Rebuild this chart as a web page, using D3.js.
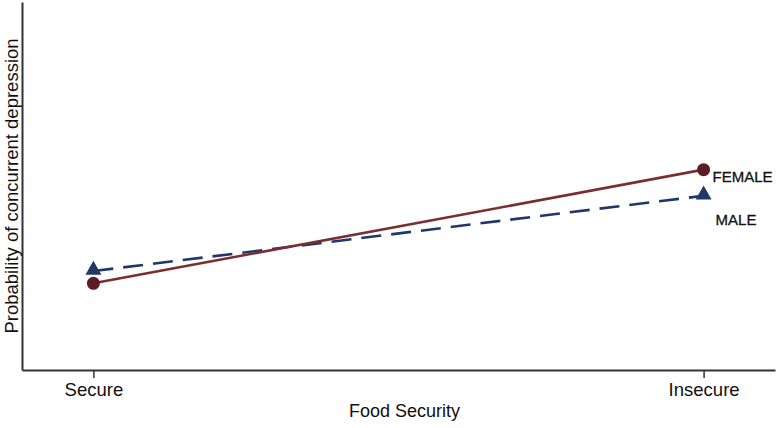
<!DOCTYPE html>
<html>
<head>
<meta charset="utf-8">
<script src="https://cdn.jsdelivr.net/npm/d3@7"></script>
<style>
  body { margin: 0; background: #fff; }
  text { font-family: "Liberation Sans", Arial, sans-serif; fill: #111; }
</style>
</head>
<body>
<svg id="chart" width="777" height="428"></svg>
<script>
const categories  = ["Secure", "Insecure"];
const femaleVals  = [0.106, 0.245];
const maleVals    = [0.121, 0.213];
const seriesNames = ["FEMALE", "MALE"];

const width  = 777;
const height = 428;
const margin = {top: 2, right: 2, bottom: 58, left: 22};

const svg = d3.select("#chart");

const x = d3.scalePoint()
  .domain(categories)
  .range([margin.left, width - margin.right])
  .padding(0.117);

const y = d3.scaleLinear()
  .domain([0, 0.45])
  .range([height - margin.bottom, margin.top]);

const axisColor = "#333";

// axes
const xAxis = svg.append("g")
  .attr("transform", `translate(0,${height - margin.bottom})`)
  .call(d3.axisBottom(x).tickSize(8).tickSizeOuter(0));
xAxis.select(".domain").attr("stroke", axisColor).attr("stroke-width", 2);
xAxis.selectAll(".tick line").attr("stroke", axisColor).attr("stroke-width", 1.5);
xAxis.selectAll(".tick text")
  .attr("y", 13)
  .attr("dy", "0.71em")
  .style("font-size", "18.5px")
  .style("font-family", "Liberation Sans, Arial, sans-serif")
  .attr("fill", "#111");

const yAxis = svg.append("g")
  .attr("transform", `translate(${margin.left},0)`)
  .call(d3.axisLeft(y).tickValues([]).tickSizeOuter(0));
yAxis.select(".domain").attr("stroke", axisColor).attr("stroke-width", 2);

svg.append("text")
  .attr("transform", `translate(18,${(margin.top + height - margin.bottom) / 2}) rotate(-90)`)
  .attr("text-anchor", "middle")
  .style("font-size", "18.5px")
  .text("Probability of concurrent depression");

svg.append("text")
  .attr("x", (margin.left + width - margin.right) / 2 + 6)
  .attr("y", 417)
  .attr("text-anchor", "middle")
  .style("font-size", "18px")
  .text("Food Security");

const line = d3.line()
  .x((d, i) => x(categories[i]))
  .y(d => y(d));

const femaleColor = "#7a2e32";
const maleColor   = "#1f3868";

svg.append("path")
  .datum(maleVals)
  .attr("fill", "none")
  .attr("stroke", maleColor)
  .attr("stroke-width", 2.6)
  .attr("stroke-dasharray", "20,10")
  .attr("d", line);

svg.append("path")
  .datum(femaleVals)
  .attr("fill", "none")
  .attr("stroke", femaleColor)
  .attr("stroke-width", 2.6)
  .attr("d", line);

svg.selectAll(".male-pt")
  .data(maleVals)
  .enter().append("path")
  .attr("class", "male-pt")
  .attr("transform", (d, i) => `translate(${x(categories[i])},${y(d) - 1})`)
  .attr("d", d3.symbol(d3.symbolTriangle, 110))
  .attr("fill", maleColor);

svg.selectAll(".female-pt")
  .data(femaleVals)
  .enter().append("circle")
  .attr("class", "female-pt")
  .attr("cx", (d, i) => x(categories[i]))
  .attr("cy", d => y(d))
  .attr("r", 6.5)
  .attr("fill", "#5a1e24");

svg.append("text")
  .attr("x", x("Insecure") + 9)
  .attr("y", y(femaleVals[1]) + 12)
  .style("font-size", "15px")
  .style("stroke", "#111")
  .style("stroke-width", 0.3)
  .text(seriesNames[0]);

svg.append("text")
  .attr("x", x("Insecure") + 12)
  .attr("y", y(maleVals[1]) + 29)
  .style("font-size", "15px")
  .style("stroke", "#111")
  .style("stroke-width", 0.3)
  .text(seriesNames[1]);
</script>
</body>
</html>
